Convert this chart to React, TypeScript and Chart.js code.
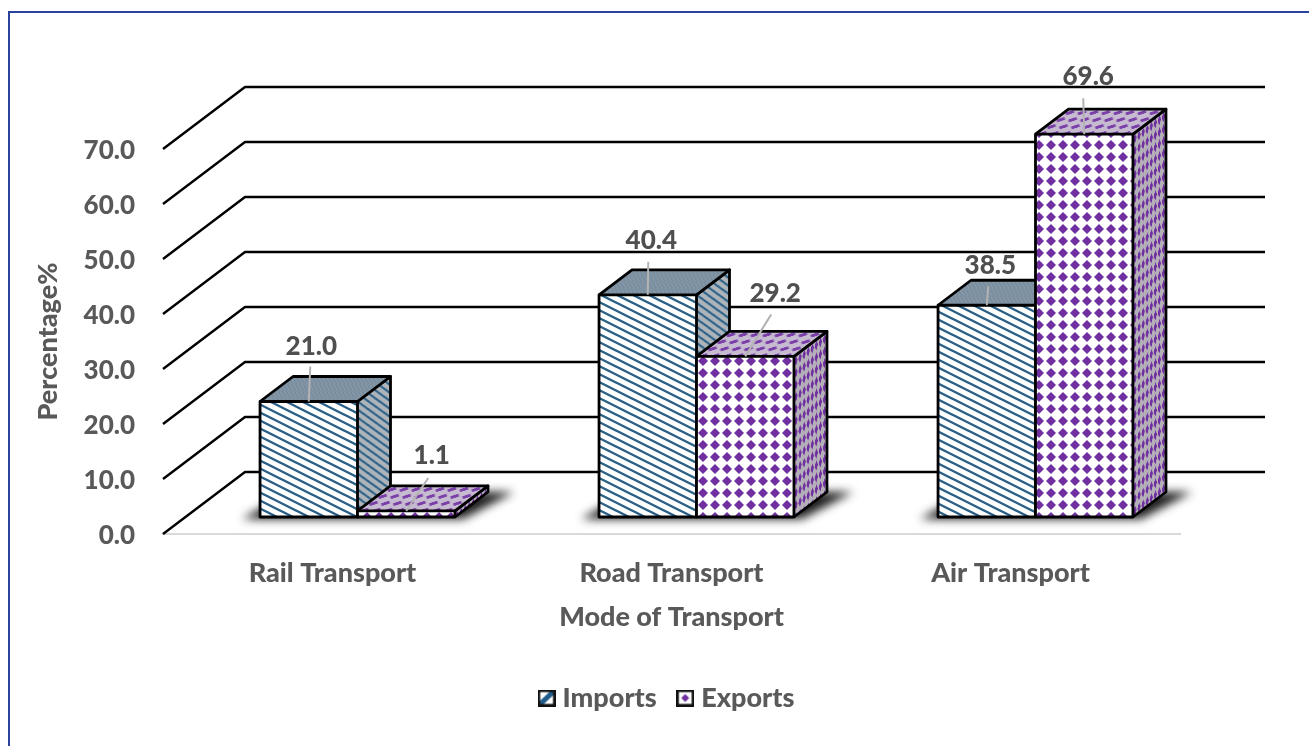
import React, { useEffect, useRef } from "react";
import { Chart, registerables } from "chart.js";

Chart.register(...registerables);

const categories = ["Rail Transport", "Road Transport", "Air Transport"];
const imports = [21.0, 40.4, 38.5];
const exportsValues = [1.1, 29.2, 69.6];
const yTicksMax = 70;
const yTickStep = 10;

const FONT = "Lato, Carlito, sans-serif";
const TEXT = "#595959";
const SHIFT = { x: 25, y: -17 };
const DEPTH = { x: 33, y: -25 };
const WALL = { x: 82, y: -62, right: 1265 };
const LABEL_OFFSET = [
  [[2.5, -55, 1.5, -35], [3.5, -54, 0.5, -33], [3.5, -40, 1.5, -19]],
  [[25.5, -55, 22, -33], [30, -63, 26, -42], [4, -58, -1, -36]],
];

function tile(w: number, h: number, paint: (c: CanvasRenderingContext2D) => void) {
  const cv = document.createElement("canvas");
  cv.width = w;
  cv.height = h;
  paint(cv.getContext("2d")!);
  return cv;
}

function stripes(bg: string, ink: string) {
  return (c: CanvasRenderingContext2D) => {
    c.fillStyle = bg;
    c.fillRect(0, 0, 16, 16);
    c.strokeStyle = ink;
    c.lineWidth = 2.4;
    [-16, -8, 0, 8, 16].forEach((o) => {
      c.beginPath();
      c.moveTo(-2, o - 1);
      c.lineTo(18, o + 9);
      c.stroke();
    });
  };
}

function diamonds(bg: string, ink: string, radius: number, core: number) {
  return (c: CanvasRenderingContext2D) => {
    c.fillStyle = bg;
    c.fillRect(0, 0, 12, 12);
    c.fillStyle = ink;
    c.beginPath();
    c.moveTo(6, 6 - radius);
    c.lineTo(6 + radius, 6);
    c.lineTo(6, 6 + radius);
    c.lineTo(6 - radius, 6);
    c.closePath();
    c.fill();
    c.beginPath();
    c.arc(6, 6, core, 0, Math.PI * 2);
    c.fill();
  };
}

function speckle(c: CanvasRenderingContext2D) {
  c.fillStyle = "#8598a8";
  c.fillRect(0, 0, 4, 4);
  c.fillStyle = "#788c9d";
  c.fillRect(0, 0, 2, 2);
  c.fillRect(2, 2, 2, 2);
}

function legendSwatch(kind: "imports" | "exports") {
  return tile(18, 17, (c) => {
    c.fillStyle = "#fff";
    c.fillRect(0, 0, 18, 17);
    if (kind === "imports") {
      c.strokeStyle = "#1f5c8b";
      c.lineWidth = 5;
      c.beginPath();
      c.moveTo(0, 17);
      c.lineTo(18, 0);
      c.stroke();
    } else {
      c.fillStyle = "#7030a0";
      c.beginPath();
      c.moveTo(9, 4.5);
      c.lineTo(13, 8.5);
      c.lineTo(9, 12.5);
      c.lineTo(5, 8.5);
      c.closePath();
      c.fill();
    }
    c.strokeStyle = "#111";
    c.lineWidth = 2.6;
    c.strokeRect(1.3, 1.3, 15.4, 14.4);
  });
}

export default function App() {
  const ref = useRef<HTMLCanvasElement>(null);

  useEffect(() => {
    const ctx = ref.current!.getContext("2d")!;
    const pat = (cv: HTMLCanvasElement) => ctx.createPattern(cv, "repeat")!;
    const faces = [
      {
        front: pat(tile(16, 16, stripes("#ffffff", "#2a5f86"))),
        side: pat(tile(16, 16, stripes("#adb4ba", "#2a5f86"))),
        top: pat(tile(4, 4, speckle)),
      },
      {
        front: pat(tile(12, 12, diamonds("#ffffff", "#7030a0", 5, 3))),
        side: pat(tile(12, 12, diamonds("#b4afb9", "#7030a0", 5, 3))),
        top: pat(tile(12, 12, diamonds("#c6bbd0", "#7a3fa8", 4.6, 2.6))),
      },
    ];

    const depthPlugin = {
      id: "depth",
      afterLayout(chart: any) {
        chart.legend.left -= 2.25;
        chart.legend.right -= 2.25;
      },
      beforeDatasetDraw() {
        return false;
      },
      beforeDatasetsDraw(chart: any) {
        const { ctx: c, chartArea, scales } = chart;
        c.save();
        c.strokeStyle = "#000";
        c.lineWidth = 2.4;
        c.lineJoin = "round";
        scales.y.ticks.forEach((t: any) => {
          const y = scales.y.getPixelForValue(t.value);
          c.beginPath();
          c.moveTo(chartArea.left, y);
          c.lineTo(chartArea.left + WALL.x, y + WALL.y);
          c.lineTo(WALL.right, y + WALL.y);
          c.stroke();
        });
        const a = chart.getDatasetMeta(0).data;
        const b = chart.getDatasetMeta(1).data;
        c.filter = "blur(5px)";
        c.fillStyle = "rgba(10,10,10,0.92)";
        a.forEach((el: any, i: number) => {
          const l = el.x - el.width / 2 + SHIFT.x;
          const r = b[i].x + b[i].width / 2 + SHIFT.x;
          const base = el.base + SHIFT.y;
          c.beginPath();
          c.moveTo(l - 18, base + 2);
          c.lineTo(r + 8, base + 2);
          c.lineTo(r + DEPTH.x + 26, base + DEPTH.y);
          c.lineTo(l + 30, base + DEPTH.y);
          c.closePath();
          c.fill();
        });
        c.filter = "none";
        c.restore();
      },
      afterDatasetsDraw(chart: any) {
        const c = chart.ctx;
        [0, 1].forEach((d) => {
          const f = faces[d];
          const meta = chart.getDatasetMeta(d);
          c.save();
          c.translate(SHIFT.x, SHIFT.y);
          meta.controller.draw();
          meta.data.forEach((el: any) => {
            const l = el.x - el.width / 2;
            const r = el.x + el.width / 2;
            const top = el.y;
            const h = el.base - el.y;
            const w = el.width;
            c.lineWidth = 2.8;
            c.strokeStyle = "#000";
            c.lineJoin = "round";

            c.save();
            c.transform(DEPTH.x / w, DEPTH.y / w, 0, 1, r, top);
            c.fillStyle = f.side;
            c.beginPath();
            c.rect(0, 0, w, h);
            c.fill();
            c.restore();
            c.beginPath();
            c.moveTo(r, top);
            c.lineTo(r + DEPTH.x, top + DEPTH.y);
            c.lineTo(r + DEPTH.x, top + DEPTH.y + h);
            c.lineTo(r, top + h);
            c.stroke();

            const hv = 43;
            c.save();
            c.transform(1, 0, -DEPTH.x / hv, -DEPTH.y / hv, l + DEPTH.x, top + DEPTH.y);
            c.fillStyle = f.top;
            c.beginPath();
            c.rect(0, 0, w, hv);
            c.fill();
            c.restore();
            c.beginPath();
            c.moveTo(l, top);
            c.lineTo(l + DEPTH.x, top + DEPTH.y);
            c.lineTo(r + DEPTH.x, top + DEPTH.y);
            c.lineTo(r, top);
            c.stroke();

            c.strokeRect(l, top, w, h);
          });
          c.restore();
        });

        c.save();
        c.font = `900 26px ${FONT}`;
        c.textAlign = "center";
        c.textBaseline = "middle";
        chart.data.datasets.forEach((ds: any, d: number) => {
          chart.getDatasetMeta(d).data.forEach((el: any, i: number) => {
            const x = el.x + SHIFT.x;
            const y = el.y + SHIFT.y;
            const [tx, ty, lx, ly] = LABEL_OFFSET[d][i];
            c.strokeStyle = "#b3b3b3";
            c.lineWidth = 2;
            c.beginPath();
            c.moveTo(x, y);
            c.lineTo(x + lx, y + ly);
            c.stroke();
            c.fillStyle = "#4f4f4f";
            c.fillText(ds.data[i].toFixed(1), x + tx, y + ty);
          });
        });
        c.restore();
      },
    };

    const chart = new Chart(ctx, {
      type: "bar",
      plugins: [depthPlugin],
      data: {
        labels: categories,
        datasets: [
          {
            label: "Imports",
            data: imports,
            backgroundColor: faces[0].front,
            borderWidth: 0,
            categoryPercentage: 0.575,
            barPercentage: 1,
            clip: false,
          },
          {
            label: "Exports",
            data: exportsValues,
            backgroundColor: faces[1].front,
            borderWidth: 0,
            categoryPercentage: 0.575,
            barPercentage: 1,
            clip: false,
          },
        ],
      },
      options: {
        animation: false,
        responsive: false,
        layout: { padding: { left: 32, right: 129, top: 149, bottom: 24.5 } },
        scales: {
          x: {
            grid: { display: false },
            border: { color: "#d9d9d9", width: 2 },
            ticks: { color: TEXT, font: { family: FONT, size: 27, weight: "900" }, padding: 15 },
            title: {
              display: true,
              text: "Mode of Transport",
              color: TEXT,
              font: { family: FONT, size: 27, weight: "900" },
              padding: { top: 0, bottom: 25 },
            },
            afterFit: (s: any) => {
              s.height = 124.5;
            },
          },
          y: {
            min: 0,
            max: yTicksMax,
            grid: { display: false, drawTicks: false },
            border: { display: false },
            ticks: {
              stepSize: yTickStep,
              color: TEXT,
              font: { family: FONT, size: 26, weight: "900" },
              padding: 28,
              labelOffset: 2,
              callback: (v: any) => Number(v).toFixed(1),
            },
            title: {
              display: true,
              text: "Percentage%",
              color: TEXT,
              font: { family: FONT, size: 27, weight: "900" },
              padding: 0,
            },
            afterFit: (s: any) => {
              s.width = 131;
            },
          },
        },
        plugins: {
          tooltip: { enabled: false },
          legend: {
            position: "bottom",
            fullSize: false,
            labels: {
              color: TEXT,
              font: { family: FONT, size: 27, weight: "900" },
              usePointStyle: true,
              pointStyleWidth: 5,
              boxHeight: 17,
              padding: 26,
              generateLabels: (ch: any) =>
                ch.data.datasets.map((ds: any, i: number) => ({
                  text: ds.label,
                  pointStyle: legendSwatch(i === 0 ? "imports" : "exports"),
                  fontColor: TEXT,
                  datasetIndex: i,
                  hidden: false,
                })),
            },
          },
        },
      },
    } as any);
    return () => chart.destroy();
  }, []);

  return (
    <div style={{ position: "absolute", left: 0, top: 0, width: 1309, height: 746, background: "#fff", overflow: "hidden" }}>
      <div style={{ position: "absolute", left: 8, top: 11, width: 1301, height: 735, borderLeft: "2px solid #2a439a", borderTop: "2px solid #2a439a", boxSizing: "border-box" }} />
      <canvas ref={ref} width={1309} height={746} style={{ position: "absolute", left: 0, top: 0, display: "block" }} />
    </div>
  );
}
